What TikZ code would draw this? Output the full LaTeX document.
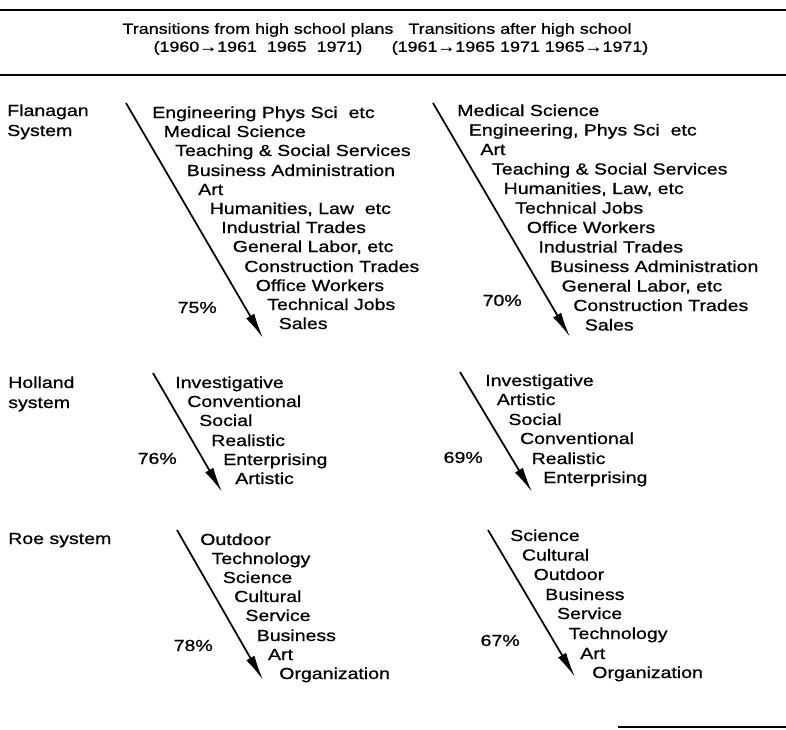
\documentclass[tikz,border=0pt]{standalone}
\usepackage{fontspec}
\setmainfont[FakeStretch=1.22, FakeBold=0.8]{Liberation Sans}
\usepackage{tikz}
\usetikzlibrary{arrows.meta}

\tikzset{
  item/.style={anchor=base west, inner sep=0pt},
  pct/.style={anchor=base east, inner sep=0pt},
  head/.style={align=center, inner sep=0pt, font=\fontsize{11}{13.5}\selectfont},
  rankarrow/.style={line width=1.3pt, -{Latex[length=19pt, width=7pt]}},
  rule/.style={line width=1.5pt},
}

\begin{document}
\begin{tikzpicture}[x=0.75pt, y=-0.75pt, font=\fontsize{12}{14}\selectfont]
\useasboundingbox (0,0) rectangle (786,729);
\coordinate (topl) at (0,10);
\coordinate (topr) at (786,10);
\coordinate (midl) at (0,75);
\coordinate (midr) at (786,75);
\coordinate (botl) at (618,727);
\coordinate (botr) at (786,727);
\draw[rule] (topl) -- (topr);
\draw[rule] (midl) -- (midr);
\draw[rule] (botl) -- (botr);
\node[head] (hleft) at (258,39) {Transitions from high school plans\\(1960→1961\ \ 1965\ \ 1971)};
\node[head] (hright) at (520,39) {Transitions after high school\\(1961→1965 1971 1965→1971)};

\node[item] (flan1) at (7,116) {Flanagan};
\node[item] (flan2) at (7,136) {System};
\coordinate (fls) at (126,103);
\coordinate (fle) at (263,338);
\draw[rankarrow] (fls) -- (fle);
	\node[item] (fl1) at (152,118) {Engineering Phys Sci\ \ etc};
	\node[item] (fl2) at (163.5,137) {Medical Science};
	\node[item] (fl3) at (175,156) {Teaching \& Social Services};
	\node[item] (fl4) at (186.5,176) {Business Administration};
	\node[item] (fl5) at (198,195) {Art};
	\node[item] (fl6) at (209.5,214) {Humanities, Law\ \ etc};
	\node[item] (fl7) at (221,233) {Industrial Trades};
	\node[item] (fl8) at (232.5,252) {General Labor, etc};
	\node[item] (fl9) at (244,272) {Construction Trades};
	\node[item] (fl10) at (255.5,291) {Office Workers};
	\node[item] (fl11) at (267,310) {Technical Jobs};
	\node[item] (fl12) at (278.5,329) {Sales};
	\node[pct] (flp) at (217,313) {75\%};
\coordinate (frs) at (433,103);
\coordinate (fre) at (570,337);
\draw[rankarrow] (frs) -- (fre);
	\node[item] (fr1) at (457,116) {Medical Science};
	\node[item] (fr2) at (468.6,135.5) {Engineering, Phys Sci\ \ etc};
	\node[item] (fr3) at (480.2,155) {Art};
	\node[item] (fr4) at (491.8,174.5) {Teaching \& Social Services};
	\node[item] (fr5) at (503.4,194) {Humanities, Law, etc};
	\node[item] (fr6) at (515,213.5) {Technical Jobs};
	\node[item] (fr7) at (526.6,233) {Office Workers};
	\node[item] (fr8) at (538.2,252.5) {Industrial Trades};
	\node[item] (fr9) at (549.8,272) {Business Administration};
	\node[item] (fr10) at (561.4,291.5) {General Labor, etc};
	\node[item] (fr11) at (573,311) {Construction Trades};
	\node[item] (fr12) at (584.6,330.5) {Sales};
	\node[pct] (frp) at (522,306) {70\%};

\node[item] (holl1) at (8,388) {Holland};
\node[item] (holl2) at (8,408) {system};
\coordinate (hls) at (153,373);
\coordinate (hle) at (222,492);
\draw[rankarrow] (hls) -- (hle);
	\node[item] (hl1) at (175,388) {Investigative};
	\node[item] (hl2) at (187,407) {Conventional};
	\node[item] (hl3) at (199,426) {Social};
	\node[item] (hl4) at (211,446) {Realistic};
	\node[item] (hl5) at (223,465) {Enterprising};
	\node[item] (hl6) at (235,484) {Artistic};
	\node[pct] (hlp) at (177,464) {76\%};
\coordinate (hrs) at (460,372);
\coordinate (hre) at (532,492);
\draw[rankarrow] (hrs) -- (hre);
	\node[item] (hr1) at (485,386) {Investigative};
	\node[item] (hr2) at (496.6,405) {Artistic};
	\node[item] (hr3) at (508.2,425) {Social};
	\node[item] (hr4) at (519.8,444) {Conventional};
	\node[item] (hr5) at (531.4,464) {Realistic};
	\node[item] (hr6) at (543,483) {Enterprising};
	\node[pct] (hrp) at (483,463) {69\%};

\node[item] (roe) at (8,544) {Roe system};
\coordinate (rls) at (177,530);
\coordinate (rle) at (263,680);
\draw[rankarrow] (rls) -- (rle);
	\node[item] (rl1) at (200,545) {Outdoor};
	\node[item] (rl2) at (211.3,564) {Technology};
	\node[item] (rl3) at (222.6,583) {Science};
	\node[item] (rl4) at (233.9,602) {Cultural};
	\node[item] (rl5) at (245.2,621) {Service};
	\node[item] (rl6) at (256.5,641) {Business};
	\node[item] (rl7) at (267.8,660) {Art};
	\node[item] (rl8) at (279,679) {Organization};
	\node[pct] (rlp) at (213,651) {78\%};
\coordinate (rrs) at (488,530);
\coordinate (rre) at (575,677);
\draw[rankarrow] (rrs) -- (rre);
	\node[item] (rr1) at (510,541) {Science};
	\node[item] (rr2) at (521.7,560.5) {Cultural};
	\node[item] (rr3) at (533.4,580) {Outdoor};
	\node[item] (rr4) at (545,600) {Business};
	\node[item] (rr5) at (556.8,619) {Service};
	\node[item] (rr6) at (568.5,639) {Technology};
	\node[item] (rr7) at (580,659) {Art};
	\node[item] (rr8) at (592,678) {Organization};
	\node[pct] (rrp) at (520,646) {67\%};
\end{tikzpicture}
\end{document}
